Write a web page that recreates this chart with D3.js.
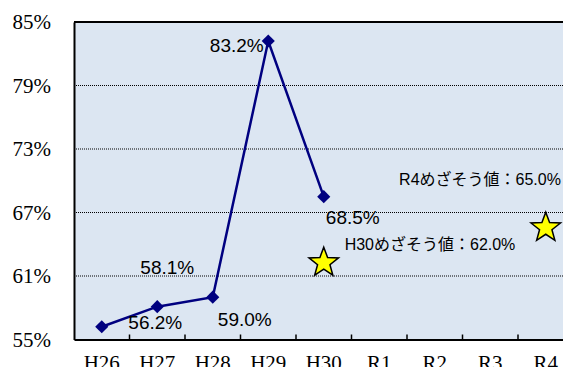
<!DOCTYPE html>
<html><head><meta charset="utf-8">
<script src="https://cdn.jsdelivr.net/npm/d3@7"></script>
<style>html,body{margin:0;padding:0;background:#fff;overflow:hidden}</style>
</head><body>
<svg id="c" width="563" height="367"></svg>
<script>
const categories = ["H26","H27","H28","H29","H30","R1","R2","R3","R4"];
const rateCats = ["H26","H27","H28","H29","H30"];
const rateValues = [56.2, 58.1, 59.0, 83.2, 68.5];
const rateLabels = ["56.2%","58.1%","59.0%","83.2%","68.5%"];
const targetCats = ["H30","R4"];
const targetStarValues = [62.4, 65.7];
const targetLabels = ["H30めざそう値：62.0%","R4めざそう値：65.0%"];
const yTicks = [55, 61, 67, 73, 79, 85];

const SERIF = "'Liberation Serif', 'Times New Roman', serif";
const svg = d3.select("#c");
const L = 74, T = 22, B = 339.5, R = 573.5;
const x = d3.scaleBand().domain(categories).range([L, R]);
const y = d3.scaleLinear().domain([55, 85]).range([B, T]);
const cx = c => x(c) + x.bandwidth()/2;

svg.append("rect").attr("x", L).attr("y", T).attr("width", R - L).attr("height", B - T).attr("fill", "#DCE6F2");

svg.append("g").selectAll("line").data(yTicks.filter(v => v > 55 && v < 85)).join("line")
  .attr("x1", L).attr("x2", R).attr("y1", d => y(d)).attr("y2", d => y(d))
  .attr("stroke", "#000").attr("stroke-width", 1).attr("stroke-dasharray", "1,1");

svg.append("line").attr("x1", L).attr("x2", R).attr("y1", T).attr("y2", T).attr("stroke", "#000").attr("stroke-width", 2);

const yAxis = d3.axisLeft(y).tickValues(yTicks).tickSize(0).tickFormat(d => d + "%");
const gy = svg.append("g").attr("transform", `translate(${L},0)`).call(yAxis);
gy.select(".domain").attr("stroke", "#000").attr("stroke-width", 2);
gy.selectAll("text").style("font-family", SERIF).style("font-size", "21px")
  .attr("fill", "#000").attr("x", -23).attr("dy", "0.33em");

const xAxis = d3.axisBottom(x).tickSize(0);
const gx = svg.append("g").attr("transform", `translate(0,${B})`).call(xAxis);
gx.select(".domain").attr("stroke", "#000").attr("stroke-width", 2);
gx.selectAll("text").style("font-family", SERIF).style("font-size", "21px")
  .attr("fill", "#000").attr("y", 30.5).attr("dy", 0);
svg.append("g").selectAll("line").data(categories.slice(1)).join("line")
  .attr("x1", d => x(d)).attr("x2", d => x(d)).attr("y1", B).attr("y2", B - 5)
  .attr("stroke", "#000").attr("stroke-width", 1.5);

const pts = rateCats.map((c, i) => [cx(c), y(rateValues[i])]);
svg.append("path").attr("d", d3.line()(pts)).attr("fill", "none").attr("stroke", "#000080").attr("stroke-width", 2.5);
svg.append("g").selectAll("path").data(pts).join("path")
  .attr("d", d3.symbol().type(d3.symbolDiamond2 || d3.symbolDiamond).size(110))
  .attr("transform", d => `translate(${d[0]},${d[1]})`)
  .attr("fill", "#000080");

const labelOffsets = [[53.5, 2], [10, -32.6], [32, 28.6], [-31.5, 11.3], [29, 27.7]];
svg.append("g").selectAll("text").data(rateLabels).join("text")
  .attr("x", (d, i) => pts[i][0] + labelOffsets[i][0])
  .attr("y", (d, i) => pts[i][1] + labelOffsets[i][1])
  .attr("text-anchor", "middle")
  .attr("font-family", "Liberation Sans, Arial, sans-serif").attr("font-size", 19)
  .attr("fill", "#000").text(d => d);

function starPath(r) {
  const inner = r * 0.42;
  let p = [];
  for (let k = 0; k < 10; k++) {
    const a = -Math.PI/2 + k * Math.PI/5;
    const rr = k % 2 === 0 ? r : inner;
    p.push([rr * Math.cos(a), rr * Math.sin(a)]);
  }
  return "M" + p.map(q => q.join(",")).join("L") + "Z";
}
svg.append("g").selectAll("path").data(targetCats).join("path")
  .attr("d", starPath(15.5))
  .attr("transform", (d, i) => `translate(${cx(d)},${y(targetStarValues[i]) + 1.5})`)
  .attr("fill", "#FFFF00").attr("stroke", "#000").attr("stroke-width", 1.5);

const tPos = [[430, 250], [480, 185]];
svg.append("g").selectAll("text").data(targetLabels).join("text")
  .attr("x", (d, i) => tPos[i][0]).attr("y", (d, i) => tPos[i][1])
  .attr("text-anchor", "middle")
  .attr("font-family", "Liberation Sans, 'Noto Sans CJK JP', sans-serif").attr("font-size", 16)
  .attr("fill", "#000").text(d => d);
</script>
</body></html>
